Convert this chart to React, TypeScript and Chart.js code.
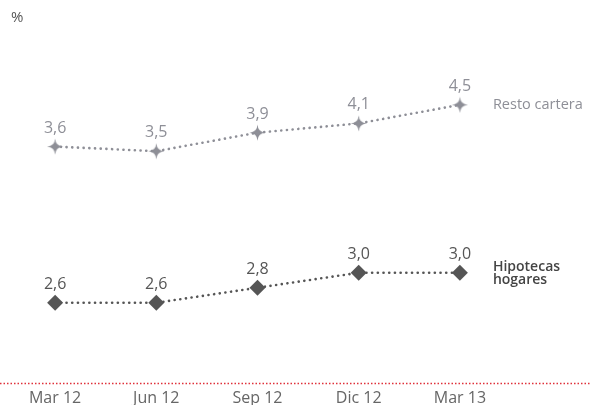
import React, { useEffect, useRef } from "react";
import { Chart, registerables } from "chart.js";

Chart.register(...registerables);

const categories = ["Mar 12", "Jun 12", "Sep 12", "Dic 12", "Mar 13"];
const restoCartera = [3.6, 3.5, 3.9, 4.1, 4.5];
const hipotecasHogares = [2.6, 2.6, 2.8, 3.0, 3.0];
const seriesNames = ["Resto cartera", ["Hipotecas", "hogares"]];
const unitLabel = "%";

const FONT = "'Open Sans', 'DejaVu Sans', sans-serif";
const GRAY = "#8e8f97";
const DARK = "#555555";

function makeStar(color: string, size: number): HTMLCanvasElement {
  const c = document.createElement("canvas");
  c.width = size;
  c.height = size;
  const ctx = c.getContext("2d")!;
  const m = size / 2;
  const r = size / 2 - 0.5;
  const k = r * 0.22;
  ctx.fillStyle = color;
  ctx.beginPath();
  ctx.moveTo(m, m - r);
  ctx.quadraticCurveTo(m + k * 0.3, m - k * 0.3, m + r, m);
  ctx.quadraticCurveTo(m + k * 0.3, m + k * 0.3, m, m + r);
  ctx.quadraticCurveTo(m - k * 0.3, m + k * 0.3, m - r, m);
  ctx.quadraticCurveTo(m - k * 0.3, m - k * 0.3, m, m - r);
  ctx.closePath();
  ctx.fill();
  ctx.beginPath();
  ctx.arc(m, m, r * 0.32, 0, Math.PI * 2);
  ctx.fill();
  return c;
}

const overlay = {
  id: "overlay",
  afterDatasetsDraw(chart: any) {
    const ctx = chart.ctx;
    const xs = chart.scales.x;
    ctx.save();
    chart.data.datasets.forEach((ds: any, i: number) => {
      const meta = chart.getDatasetMeta(i);
      ctx.fillStyle = i === 0 ? GRAY : DARK;
      ctx.font = `16px ${FONT}`;
      ctx.textAlign = "center";
      ctx.textBaseline = "alphabetic";
      meta.data.forEach((pt: any, j: number) => {
        const v = ds.data[j] as number;
        ctx.fillText(v.toFixed(1).replace(".", ","), pt.x, pt.y - 14);
      });
    });
    const m0 = chart.getDatasetMeta(0).data;
    const m1 = chart.getDatasetMeta(1).data;
    const lx = m0[m0.length - 1].x + 33;
    ctx.textAlign = "left";
    ctx.textBaseline = "middle";
    ctx.fillStyle = GRAY;
    ctx.font = `14.5px ${FONT}`;
    ctx.fillText(seriesNames[0] as string, lx, m0[m0.length - 1].y);
    ctx.fillStyle = "#444444";
    ctx.font = `600 14px ${FONT}`;
    const lines = seriesNames[1] as string[];
    const ly = m1[m1.length - 1].y;
    ctx.fillText(lines[0], lx, ly - 6);
    ctx.fillText(lines[1], lx, ly + 7);
    ctx.fillStyle = "#555555";
    ctx.font = `15px ${FONT}`;
    ctx.fillText(unitLabel, 11, 18);
    const y0 = chart.chartArea.bottom;
    ctx.strokeStyle = "#e0303a";
    ctx.lineWidth = 1.5;
    ctx.setLineDash([1.5, 2]);
    ctx.beginPath();
    ctx.moveTo(0, y0 + 0.5);
    ctx.lineTo(chart.width, y0 + 0.5);
    ctx.stroke();
    ctx.setLineDash([]);
    ctx.fillStyle = "#666666";
    ctx.font = `16px ${FONT}`;
    ctx.textAlign = "center";
    ctx.textBaseline = "top";
    categories.forEach((c, j) => {
      ctx.fillText(c, xs.getPixelForValue(j), y0 + 7);
    });
    ctx.restore();
  },
};

export default function App() {
  const ref = useRef<HTMLCanvasElement>(null);
  useEffect(() => {
    const star = makeStar(GRAY, 17);
    const chart = new Chart(ref.current!, {
      type: "line",
      data: {
        labels: categories,
        datasets: [
          {
            label: "Resto cartera",
            data: restoCartera,
            yAxisID: "y",
            borderColor: GRAY,
            borderWidth: 2.6,
            borderDash: [0.1, 5.6],
            borderCapStyle: "round",
            pointStyle: star as any,
            pointRadius: 8,
            backgroundColor: GRAY,
          },
          {
            label: "Hipotecas hogares",
            data: hipotecasHogares,
            yAxisID: "y2",
            borderColor: DARK,
            borderWidth: 2.6,
            borderDash: [0.1, 5.6],
            borderCapStyle: "round",
            pointStyle: "rectRot",
            pointRadius: 8,
            pointBackgroundColor: DARK,
            pointBorderColor: DARK,
            pointBorderWidth: 0,
          },
        ],
      },
      options: {
        animation: false,
        responsive: false,
        layout: { autoPadding: false, padding: { top: 20, bottom: 22, left: 4.5, right: 79.5 } },
        plugins: { legend: { display: false }, tooltip: { enabled: false } },
        scales: {
          x: { display: false, offset: true },
          y: { display: false, min: -1.5, max: 6.33 },
          y2: { display: false, min: 1.53, max: 6.37 },
        },
      },
      plugins: [overlay],
    });
    return () => chart.destroy();
  }, []);
  return (
    <div style={{ position: "absolute", left: 0, top: 0, width: 590, height: 405, overflow: "hidden", background: "#fff" }}>
      <canvas ref={ref} width={590} height={405} />
    </div>
  );
}
